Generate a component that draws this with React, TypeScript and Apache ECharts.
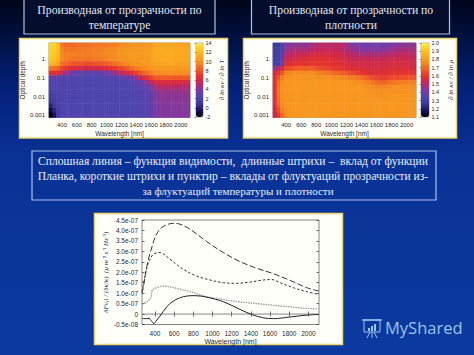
import React, { useEffect, useRef } from "react";
import * as echarts from "echarts";

const titleLeft = ["Производная от прозрачности по", "температуре"];
const titleRight = ["Производная от прозрачности по", "плотности"];
const captionLines = [
  "Сплошная линия – функция видимости,  длинные штрихи –  вклад от функции",
  "Планка, короткие штрихи и пунктир – вклады от флуктуаций прозрачности из-",
  "за флуктуаций температуры и плотности",
];
const wavelengths = [250,300,350,400,450,500,550,600,650,700,750,800,850,900,950,1000,1050,1100,1150,1200,1250,1300,1350,1400,1450,1500,1550,1600,1650,1700,1750,1800,1850,1900,1950,2000,2050,2100].map(String);
// bottom to top
const opticalDepths = ["0.001","0.00178","0.00316","0.00562","0.01","0.0178","0.0316","0.0562","0.1","0.178","0.316","0.562","1","1.78","3.16","5.62"];
const decadeLabels = ["0.001", "0.01", "0.1", "1"];

// rows listed from the top of the plot down
const tempDerivative = [
[13,13,12,9.2,8.6,8.6,8.6,8.7,8.8,8.8,8.9,9,9,9,9.1,9.1,9.2,9.3,9.4,9.6,9.8,9.9,10,10,10,10.1,10.1,10.3,10.8,10.9,11,11,11,11,11,10.9,10.8,10.8],
[13,12.8,12,9.6,9,9,9,9,9.1,9.1,9.2,9.2,9.3,9.3,9.4,9.5,9.6,9.7,9.9,10,10.1,10.2,10.2,10.3,10.3,10.3,10.4,10.6,11,11.1,11.2,11.2,11.2,11.2,11.1,11,11,11],
[12.8,12.6,11.8,9.8,9.3,9.2,9.2,9.2,9.2,9.2,9.3,9.3,9.4,9.4,9.5,9.6,9.7,9.8,10,10.1,10.2,10.3,10.3,10.4,10.4,10.4,10.5,10.7,11,11.1,11.2,11.3,11.3,11.2,11.2,11.1,11,11],
[12.5,12.3,11.5,9.7,9.3,9.1,9,9,9,9,9,9,9.1,9.2,9.3,9.4,9.6,9.7,9.9,10,10.1,10.2,10.3,10.4,10.4,10.4,10.5,10.7,11,11.1,11.2,11.2,11.2,11.2,11.1,11,11,11],
[11.8,11.5,10.8,9,8.5,8.2,8,7.9,7.8,7.7,7.7,7.7,7.8,7.9,8,8.2,8.5,8.8,9,9.2,9.5,9.7,9.9,10,10.1,10.2,10.3,10.5,10.8,10.9,11,11,11,11,10.9,10.8,10.8,10.8],
[9,8.8,8.5,7.6,7,6.6,6.3,6.1,6,5.9,5.8,5.8,5.9,6,6.1,6.3,6.6,6.9,7.2,7.5,8,8.4,8.8,9.2,9.5,9.7,9.9,10.1,10.3,10.4,10.4,10.4,10.4,10.4,10.3,10.3,10.3,10.3],
[6.8,6.6,6.4,5.6,4.6,3.8,3.3,3.1,3,2.9,2.9,2.9,2.9,3,3.1,3.3,3.7,4.2,4.7,5.2,5.8,6.3,6.8,7.2,7.8,8.4,8.8,9.3,9.7,9.8,9.9,9.9,9.9,9.9,9.8,9.8,9.8,9.8],
[3,3,2.9,2.7,2.6,2.5,2.5,2.5,2.4,2.4,2.4,2.4,2.4,2.4,2.5,2.5,2.6,2.6,2.7,2.8,2.9,3.1,3.5,4.3,5.1,6,6.8,7.4,7.9,8.1,8.2,8.2,8.2,8.2,8.2,8.1,8.1,8.1],
[2.5,2.5,2.5,2.4,2.4,2.3,2.3,2.3,2.3,2.3,2.3,2.3,2.3,2.3,2.3,2.3,2.3,2.4,2.4,2.4,2.4,2.5,2.6,2.8,3.2,3.8,4.6,5.4,6,6.2,6.3,6.3,6.3,6.3,6.3,6.2,6.2,6.2],
[2.2,2.3,2.3,2.2,2.2,2.2,2.2,2.2,2.2,2.2,2.2,2.2,2.2,2.2,2.2,2.2,2.2,2.3,2.3,2.3,2.3,2.3,2.4,2.5,2.6,2.8,3.2,3.8,4.6,5,5.1,5.1,5.1,5,5,5,5,5],
[1.8,2.1,2.2,2.2,2.2,2.2,2.2,2.2,2.2,2.2,2.2,2.2,2.2,2.2,2.2,2.2,2.2,2.2,2.2,2.3,2.3,2.3,2.3,2.4,2.5,2.6,2.9,3.3,3.9,4.3,4.4,4.4,4.4,4.4,4.4,4.4,4.4,4.4],
[1.3,1.8,2.1,2.2,2.2,2.2,2.2,2.2,2.2,2.2,2.2,2.2,2.2,2.2,2.2,2.2,2.2,2.2,2.2,2.2,2.3,2.3,2.3,2.3,2.4,2.5,2.8,3.1,3.7,4.1,4.2,4.2,4.2,4.2,4.2,4.2,4.2,4.2],
[0.9,1.4,2,2.2,2.2,2.2,2.2,2.2,2.2,2.2,2.2,2.2,2.2,2.2,2.2,2.2,2.2,2.2,2.2,2.2,2.2,2.3,2.3,2.3,2.4,2.5,2.7,3,3.6,4,4.1,4.1,4.1,4.1,4.1,4.1,4.1,4.1],
[0,1,1.8,2.2,2.3,2.3,2.3,2.3,2.3,2.3,2.3,2.3,2.3,2.3,2.3,2.3,2.3,2.3,2.3,2.3,2.3,2.3,2.3,2.3,2.4,2.5,2.7,3,3.5,3.9,4,4,4,4,4,4,4,4],
[-1,0.3,1.6,2.2,2.4,2.4,2.4,2.4,2.4,2.4,2.4,2.4,2.4,2.4,2.4,2.4,2.4,2.4,2.4,2.4,2.4,2.4,2.4,2.4,2.5,2.6,2.7,3,3.5,3.9,4,4,4,4,4,4,4,4],
[-1.8,-0.5,1.2,2.2,2.5,2.5,2.5,2.5,2.5,2.5,2.5,2.5,2.5,2.5,2.5,2.5,2.5,2.5,2.5,2.5,2.5,2.5,2.5,2.5,2.5,2.6,2.8,3,3.5,3.9,4,4,4,4,4,4,4,4],
];
const densityDerivative = [
[1.28,1.28,1.32,1.42,1.44,1.45,1.45,1.45,1.45,1.45,1.47,1.49,1.5,1.5,1.5,1.5,1.5,1.5,1.5,1.48,1.45,1.43,1.42,1.42,1.41,1.41,1.41,1.41,1.41,1.41,1.42,1.43,1.44,1.44,1.45,1.45,1.45,1.45],
[1.3,1.3,1.33,1.45,1.47,1.48,1.48,1.48,1.48,1.49,1.5,1.51,1.52,1.52,1.52,1.52,1.51,1.51,1.5,1.49,1.47,1.46,1.45,1.44,1.44,1.44,1.44,1.44,1.44,1.44,1.45,1.46,1.47,1.47,1.47,1.48,1.48,1.48],
[1.3,1.3,1.35,1.49,1.5,1.51,1.52,1.53,1.53,1.54,1.55,1.56,1.56,1.56,1.56,1.55,1.54,1.54,1.53,1.52,1.51,1.5,1.49,1.48,1.48,1.48,1.48,1.48,1.48,1.49,1.49,1.5,1.5,1.5,1.51,1.51,1.5,1.5],
[1.31,1.31,1.37,1.52,1.54,1.55,1.56,1.57,1.58,1.58,1.58,1.59,1.59,1.59,1.58,1.58,1.57,1.57,1.56,1.55,1.54,1.53,1.52,1.52,1.52,1.52,1.52,1.52,1.52,1.53,1.53,1.54,1.54,1.54,1.54,1.54,1.53,1.53],
[1.32,1.32,1.4,1.57,1.58,1.59,1.6,1.6,1.6,1.6,1.6,1.6,1.6,1.6,1.6,1.59,1.59,1.58,1.58,1.57,1.56,1.55,1.55,1.55,1.55,1.55,1.55,1.55,1.55,1.55,1.55,1.56,1.56,1.56,1.56,1.56,1.55,1.55],
[1.45,1.5,1.55,1.64,1.65,1.66,1.67,1.68,1.68,1.68,1.67,1.66,1.65,1.64,1.63,1.62,1.61,1.6,1.59,1.59,1.58,1.58,1.57,1.57,1.57,1.56,1.56,1.56,1.56,1.56,1.56,1.57,1.57,1.57,1.57,1.57,1.57,1.56],
[1.56,1.6,1.66,1.74,1.75,1.76,1.76,1.76,1.76,1.76,1.76,1.75,1.74,1.73,1.72,1.71,1.7,1.69,1.68,1.67,1.65,1.64,1.62,1.6,1.59,1.58,1.58,1.58,1.58,1.58,1.59,1.59,1.6,1.6,1.6,1.6,1.6,1.6],
[1.57,1.66,1.74,1.78,1.78,1.78,1.78,1.78,1.78,1.78,1.78,1.78,1.78,1.78,1.77,1.77,1.76,1.76,1.75,1.75,1.74,1.73,1.72,1.71,1.69,1.67,1.65,1.63,1.62,1.62,1.63,1.64,1.65,1.65,1.66,1.66,1.66,1.66],
[1.58,1.7,1.77,1.79,1.79,1.79,1.79,1.79,1.79,1.79,1.79,1.79,1.79,1.79,1.79,1.79,1.79,1.79,1.79,1.79,1.79,1.78,1.77,1.76,1.75,1.74,1.72,1.7,1.69,1.69,1.7,1.71,1.72,1.73,1.73,1.73,1.74,1.74],
[1.58,1.71,1.78,1.79,1.79,1.79,1.79,1.79,1.79,1.79,1.79,1.79,1.79,1.79,1.79,1.79,1.79,1.79,1.79,1.79,1.79,1.79,1.79,1.79,1.78,1.77,1.76,1.75,1.75,1.75,1.76,1.76,1.77,1.77,1.77,1.77,1.77,1.77],
[1.58,1.72,1.78,1.79,1.79,1.79,1.79,1.79,1.79,1.79,1.79,1.79,1.79,1.79,1.79,1.79,1.79,1.79,1.79,1.79,1.79,1.79,1.79,1.79,1.79,1.78,1.78,1.77,1.77,1.78,1.78,1.78,1.78,1.78,1.78,1.78,1.78,1.78],
[1.57,1.71,1.78,1.79,1.79,1.79,1.79,1.79,1.79,1.79,1.79,1.79,1.79,1.79,1.79,1.79,1.79,1.79,1.79,1.79,1.79,1.79,1.79,1.79,1.79,1.79,1.79,1.78,1.78,1.78,1.78,1.79,1.79,1.79,1.79,1.79,1.79,1.79],
[1.56,1.7,1.77,1.79,1.79,1.79,1.79,1.79,1.79,1.79,1.79,1.79,1.79,1.79,1.79,1.79,1.79,1.79,1.79,1.79,1.79,1.79,1.79,1.79,1.79,1.79,1.79,1.79,1.79,1.79,1.79,1.79,1.79,1.79,1.79,1.79,1.79,1.79],
[1.55,1.68,1.76,1.79,1.79,1.79,1.79,1.79,1.79,1.79,1.79,1.79,1.79,1.79,1.79,1.79,1.79,1.79,1.79,1.79,1.79,1.79,1.79,1.79,1.79,1.79,1.79,1.79,1.79,1.79,1.79,1.79,1.79,1.79,1.79,1.79,1.79,1.79],
[1.54,1.65,1.74,1.78,1.79,1.79,1.79,1.79,1.79,1.79,1.79,1.79,1.79,1.79,1.79,1.79,1.79,1.79,1.79,1.79,1.79,1.79,1.79,1.79,1.79,1.79,1.79,1.79,1.79,1.79,1.79,1.79,1.79,1.79,1.79,1.79,1.79,1.79],
[1.52,1.6,1.7,1.76,1.78,1.79,1.79,1.79,1.79,1.79,1.79,1.79,1.79,1.79,1.79,1.79,1.79,1.79,1.79,1.79,1.79,1.79,1.79,1.79,1.79,1.79,1.79,1.79,1.79,1.79,1.79,1.79,1.79,1.79,1.79,1.79,1.79,1.79],
];
const paletteStops = ["#000000","#1c1260","#3a3a9a","#4f45ae","#7a3aa5","#c02860","#e23030","#f05a28","#f58a20","#f9a820","#fcc820","#ffea40"];

// line chart: [wavelength nm, value in units of 1e-7]
const planckLine = [[265,1.0],[278,1.26],[313,2.22],[341,2.78],[372,3.26],[400,3.66],[452,4.06],[522,4.27],[591,4.34],[661,4.3],[765,4.06],[939,3.47],[1113,2.94],[1287,2.51],[1461,2.19],[1635,1.93],[1809,1.61],[1983,1.26],[2108,1.1]];
const temperatureLine = [[265,1.07],[296,1.82],[320,2.3],[348,2.62],[383,2.86],[435,2.94],[470,2.92],[557,2.62],[696,2.14],[835,1.82],[974,1.63],[1113,1.5],[1252,1.47],[1391,1.53],[1530,1.63],[1617,1.65],[1704,1.5],[1843,1.26],[1983,1.07],[2108,0.94]];
const densityLine = [[265,0.46],[313,0.58],[358,0.78],[372,1.13],[417,1.26],[487,1.34],[626,1.23],[765,1.07],[939,0.83],[1113,0.69],[1287,0.58],[1461,0.5],[1635,0.42],[1809,0.34],[1983,0.27],[2108,0.24]];
const visibilityLine = [[265,-0.21],[313,-0.22],[341,-0.21],[358,-0.3],[390,-0.46],[410,-0.34],[452,-0.1],[522,0.34],[591,0.62],[696,0.83],[817,0.88],[939,0.81],[1113,0.59],[1287,0.22],[1409,-0.02],[1530,-0.18],[1635,-0.22],[1809,-0.14],[1983,-0.05],[2108,-0.02]];
const zeroLine = [[265,0],[2110,0]];
const lineTickValues = [400,600,800,1000,1200,1400,1600,1800,2000];
const lineYLabels = ["-0.5e-08","0","0.5e-07","1.0e-07","1.5e-07","2.0e-07","2.5e-07","3.0e-07","3.5e-07","4.0e-07","4.5e-07"];

const SANS = "'Liberation Sans', Arial, sans-serif";
const SERIF = "'Liberation Serif', serif";
const TICK = "#2a2a2a";

const toCells = (rows: number[][]) => {
  const out: number[][] = [];
  rows.forEach((row, r) => row.forEach((v, c) => out.push([c, rows.length - 1 - r, v])));
  return out;
};

const isHundredTick = (_: number, v: string) => Number(v) % 200 === 0 && Number(v) >= 400;
const isDecade = (_: number, v: string) => decadeLabels.includes(v);

const heatAxes = (grid: number, name: string) => {
  const x = (top: boolean) => ({
    type: "category", gridIndex: grid, data: wavelengths, position: top ? "top" : "bottom",
    name: top ? undefined : "Wavelength [nm]", nameLocation: "middle", nameGap: 12,
    nameTextStyle: { fontFamily: SANS, fontSize: 6.5, color: TICK },
    axisLine: { show: false },
    axisTick: { show: true, inside: true, length: 2, interval: isHundredTick, alignWithLabel: true, lineStyle: { color: "#222", width: 0.6 } },
    axisLabel: { show: !top, interval: isHundredTick, fontFamily: SANS, fontSize: 6, color: TICK, margin: 4 },
    splitLine: { show: false },
  });
  const y = (right: boolean) => ({
    type: "category", gridIndex: grid, data: opticalDepths, position: right ? "right" : "left",
    name: right ? undefined : name, nameLocation: "middle", nameGap: 15, nameRotate: 90,
    nameTextStyle: { fontFamily: SANS, fontSize: 6.5, color: TICK },
    axisLine: { show: false },
    axisTick: { show: true, inside: true, length: 2, interval: isDecade, alignWithLabel: true, lineStyle: { color: "#222", width: 0.6 } },
    axisLabel: { show: !right, interval: isDecade, fontFamily: SANS, fontSize: 6, color: TICK, margin: 4 },
    splitLine: { show: false },
  });
  return { x: [x(false), x(true)], y: [y(false), y(true)] };
};

export default function App() {
  const ref = useRef<HTMLDivElement>(null);
  useEffect(() => {
    document.body.style.margin = "0";
    const chart = echarts.init(ref.current!, null, { renderer: "svg" });
    const h1 = heatAxes(0, "Optical depth");
    const h2 = heatAxes(1, "Optical depth");
    const boxFrame = (x: number, y: number, w: number, h: number, fill: string, stroke: string, lw: number) => ({
      type: "rect", z: -10, shape: { x, y, width: w, height: h }, style: { fill, stroke, lineWidth: lw },
    });
    const label = (text: string, x: number, y: number, size: number, fill: string) => ({
      type: "text", z: 5, x, y, style: { text, fontFamily: SERIF, fontSize: size, fill, textAlign: "center", textVerticalAlign: "middle" },
    });
    const cbar = (grid: number, min: number, max: number, interval: number, name: any, gap: number, fmt: (v: number) => string) => ({
      type: "value", gridIndex: grid, min, max, interval, position: "right",
      name, nameLocation: "middle", nameGap: gap, nameRotate: 90,
      nameTextStyle: { fontFamily: SERIF, fontStyle: "italic", fontSize: 7, color: TICK },
      axisLine: { show: false }, splitLine: { show: false },
      axisTick: { show: true, inside: true, length: 1.5, lineStyle: { color: "#333", width: 0.5 } },
      axisLabel: { fontFamily: SANS, fontSize: 5.5, color: TICK, margin: 2.5, formatter: fmt },
    });
    const emptyX = (grid: number) => ({ type: "value", gridIndex: grid, min: 0, max: 1, show: false });
    const lineTop = (top: boolean) => ({
      type: "value", gridIndex: 4, min: 265, max: 2110, position: top ? "top" : "bottom",
      name: top ? undefined : "Wavelength [nm]", nameLocation: "middle", nameGap: 13,
      nameTextStyle: { fontFamily: SANS, fontSize: 7, color: TICK },
      axisLine: { show: false }, splitLine: { show: false },
      axisTick: { show: true, inside: true, length: 2.5, customValues: lineTickValues, lineStyle: { color: "#333", width: 0.7 } },
      axisLabel: { show: !top, customValues: lineTickValues, formatter: (v: number) => String(v), fontFamily: SANS, fontSize: 6.5, color: TICK, margin: 5 },
    });
    const lineY = (right: boolean) => ({
      type: "value", gridIndex: 4, min: -0.5, max: 4.5, interval: 0.5, position: right ? "right" : "left",
      name: right ? undefined : "δFν,i / (δκ/κ)  (μ m⁻² s⁻¹ Hz⁻¹)", nameLocation: "middle", nameGap: 29, nameRotate: 90,
      nameTextStyle: { fontFamily: SERIF, fontStyle: "italic", fontSize: 7, color: TICK },
      axisLine: { show: false }, splitLine: { show: false },
      axisTick: { show: true, inside: true, length: 2.5, lineStyle: { color: "#333", width: 0.7 } },
      axisLabel: { show: !right, fontFamily: SANS, fontSize: 6.5, color: TICK, margin: 4,
        formatter: (v: number) => lineYLabels[Math.round((v + 0.5) * 2)] },
    });
    const lineSeries = (data: number[][], width: number, type: any, color: string, z = 3) => ({
      type: "line", xAxisIndex: 8, yAxisIndex: 8, data, showSymbol: false, symbol: "none", z,
      lineStyle: { width, type, color }, silent: true, smooth: 0.35,
    });
    const heat = (i: number, rows: number[][]) => ({
      type: "heatmap", xAxisIndex: i * 2, yAxisIndex: i * 2, data: toCells(rows), silent: true, progressive: 0,
      itemStyle: { borderWidth: 0 },
    });
    chart.setOption({
      animation: false,
      backgroundColor: {
        type: "linear", x: 0, y: 0, x2: 0, y2: 1,
        colorStops: [
          { offset: 0, color: "#000618" }, { offset: 0.1, color: "#00103e" },
          { offset: 0.25, color: "#03217a" }, { offset: 0.45, color: "#0a3296" }, { offset: 1, color: "#0b3a9e" },
        ],
      },
      grid: [
        { left: 49, top: 43, width: 141, height: 74.5, show: true, backgroundColor: "transparent", borderColor: "#555", borderWidth: 0.6 },
        { left: 273, top: 43, width: 143, height: 74.5, show: true, backgroundColor: "transparent", borderColor: "#555", borderWidth: 0.6 },
        { left: 196, top: 43, width: 7, height: 74, show: true, backgroundColor: "transparent", borderColor: "#555", borderWidth: 0.5 },
        { left: 421, top: 43, width: 8, height: 74, show: true, backgroundColor: "transparent", borderColor: "#555", borderWidth: 0.5 },
        { left: 142, top: 220, width: 177, height: 104.5, show: true, backgroundColor: "transparent", borderColor: "#666", borderWidth: 0.8 },
      ],
      xAxis: [...h1.x, ...h2.x, emptyX(2), emptyX(2), emptyX(3), emptyX(3), lineTop(false), lineTop(true)],
      yAxis: [
        ...h1.y, ...h2.y,
        cbar(2, -2, 14, 2, "∂ ln κν / ∂ ln T", 15, (v) => String(v)), { type: "value", gridIndex: 2, show: false },
        cbar(3, 1.1, 2.0, 0.1, "∂ ln κν / ∂ ln ρ", 18, (v) => v.toFixed(1)), { type: "value", gridIndex: 3, show: false },
        lineY(false), lineY(true),
      ],
      visualMap: [
        { type: "continuous", seriesIndex: 0, dimension: 2, min: -2, max: 14, left: 196, top: 43, itemWidth: 7, itemHeight: 74, padding: 0, text: ["", ""], showLabel: false, calculable: false, hoverLink: false, inRange: { color: paletteStops } },
        { type: "continuous", seriesIndex: 1, dimension: 2, min: 1.1, max: 2.0, left: 421, top: 43, itemWidth: 8, itemHeight: 74, padding: 0, text: ["", ""], showLabel: false, calculable: false, hoverLink: false, inRange: { color: paletteStops } },
      ],
      series: [
        heat(0, tempDerivative),
        heat(1, densityDerivative),
        lineSeries(zeroLine, 0.8, "solid", "#666", 2),
        lineSeries(densityLine, 1.3, [1.5, 1], "#9a9a9a"),
        lineSeries(temperatureLine, 1, [2.5, 2], "#333"),
        lineSeries(planckLine, 1, [6, 2.5], "#333"),
        lineSeries(visibilityLine, 1, "solid", "#222"),
      ],
      graphic: { elements: [
        boxFrame(24, -2, 191, 36, "#040d2c", "#b4c0de", 1.2),
        boxFrame(251.5, -2, 198, 36, "#040d2c", "#b4c0de", 1.2),
        boxFrame(32, 151, 404, 49, "transparent", "#a8c4f0", 1.2),
        boxFrame(19.5, 38.5, 208, 99.5, "#fffffa", "#eed66a", 1.5),
        boxFrame(243.5, 38.5, 213, 99.5, "#fffffa", "#eed66a", 1.5),
        boxFrame(94.5, 213.5, 248, 131, "#fffffa", "#eed66a", 1.5),
        label(titleLeft[0], 119.5, 10, 11.7, "#e4e8f2"),
        label(titleLeft[1], 119.5, 25, 11.7, "#e4e8f2"),
        label(titleRight[0], 351, 10, 11.7, "#e4e8f2"),
        label(titleRight[1], 351, 25, 11.7, "#e4e8f2"),
        label(captionLines[0], 233, 161, 11.6, "#e8eefa"),
        label(captionLines[1], 233, 176, 11.6, "#e8eefa"),
        label(captionLines[2], 238, 191, 11, "#e8eefa"),
        { type: "group", z: 5, children: [
          { type: "rect", shape: { x: 364, y: 320, width: 16, height: 12 }, style: { fill: "transparent", stroke: "#9cc4ec", lineWidth: 1 } },
          { type: "line", shape: { x1: 362, y1: 320, x2: 382, y2: 320 }, style: { stroke: "#9cc4ec", lineWidth: 1.4 } },
          { type: "rect", shape: { x: 368, y: 328, width: 2, height: 3 }, style: { fill: "#9cc4ec" } },
          { type: "rect", shape: { x: 371, y: 326, width: 2, height: 5 }, style: { fill: "#9cc4ec" } },
          { type: "rect", shape: { x: 374, y: 324, width: 2, height: 7 }, style: { fill: "#9cc4ec" } },
          { type: "line", shape: { x1: 370, y1: 332, x2: 367, y2: 338 }, style: { stroke: "#9cc4ec", lineWidth: 1 } },
          { type: "line", shape: { x1: 372, y1: 332, x2: 372, y2: 338 }, style: { stroke: "#9cc4ec", lineWidth: 1 } },
          { type: "line", shape: { x1: 374, y1: 332, x2: 377, y2: 338 }, style: { stroke: "#9cc4ec", lineWidth: 1 } },
          { type: "text", x: 385, y: 327, style: { text: "MyShared", fontFamily: "'Open Sans', sans-serif", fontSize: 16.5, fill: "#9cc4ec", textVerticalAlign: "middle" } },
        ] },
      ] },
    });
    return () => chart.dispose();
  }, []);
  return <div ref={ref} style={{ width: 474, height: 355, position: "absolute", left: 0, top: 0 }} />;
}
